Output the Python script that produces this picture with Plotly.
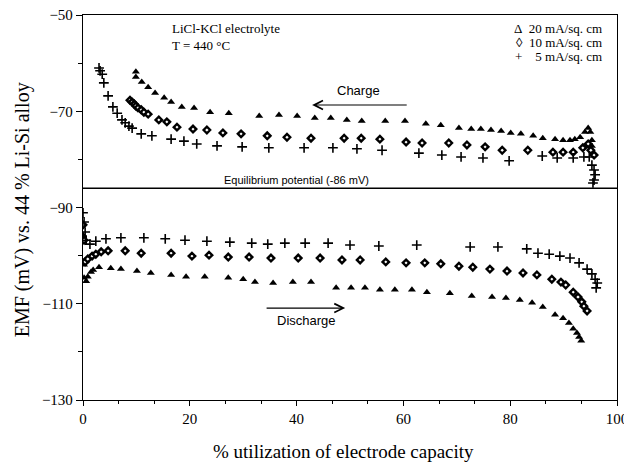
import plotly.graph_objects as go

# ---------------- data ----------------
charge_20_x = [9.9, 9.9, 11.0, 12.2, 13.5, 15.2, 16.5, 18.5, 20.8, 23.8, 27.3, 33.0, 36.7, 40.1, 43.4,
               46.4, 49.4, 52.2, 56.6, 60.3, 64.2, 67.0, 70.4, 72.7, 74.5, 76.4, 78.3, 80.1, 82.0,
               84.3, 86.1, 88.4, 89.9, 91.2, 92.1, 93.1, 94.0, 94.6, 95.0, 95.3, 95.3]
charge_20_y = [-61.8, -62.9, -63.9, -65.0, -66.2, -67.2, -68.1, -69.1, -69.3, -70.2, -70.4, -71.0, -70.8,
               -71.0, -71.4, -71.4, -71.8, -72.0, -72.0, -72.0, -72.6, -72.9, -73.5, -73.7, -73.7,
               -73.9, -74.1, -74.5, -74.7, -75.1, -75.6, -75.8, -76.0, -76.0, -75.8, -75.4, -74.3,
               -73.5, -74.3, -76.0, -77.2]

charge_10_x = [8.8, 9.2, 9.6, 9.9, 10.3, 10.9, 11.4, 12.2, 14.2, 15.7, 17.6, 20.6, 23.2, 26.2, 29.6,
               34.5, 38.2, 42.7, 48.9, 52.1, 55.6, 60.5, 63.5, 68.5, 71.9, 75.3, 78.5, 83.3, 88.0,
               89.9, 91.8, 93.6, 94.6, 95.1, 95.7]
charge_10_y = [-67.7, -68.1, -68.5, -68.9, -69.3, -69.7, -70.2, -70.6, -71.8, -72.2, -73.3, -73.7,
               -73.9, -74.5, -74.7, -75.1, -75.4, -75.6, -75.6, -75.6, -75.8, -76.4, -76.6, -76.6,
               -77.0, -77.4, -78.1, -78.1, -78.5, -78.5, -78.5, -77.6, -76.8, -78.1, -79.1]

charge_5_x = [3.0, 3.2, 3.6, 3.9, 4.7, 5.6, 6.4, 7.3, 7.9, 8.6, 9.2, 10.9, 12.9, 16.5, 18.9, 21.3,
              25.1, 29.8, 34.8, 41.4, 46.8, 51.3, 56.0, 62.9, 67.2, 70.8, 74.9, 79.8, 86.0, 88.8,
              91.8, 93.8, 94.8, 95.3, 95.7, 95.9, 95.7, 95.5]
charge_5_y = [-61.0, -61.6, -62.3, -64.1, -66.8, -69.1, -70.4, -71.8, -72.4, -73.1, -73.5, -74.7,
              -75.1, -75.8, -76.2, -76.8, -77.2, -77.4, -77.6, -77.6, -77.6, -77.8, -78.1, -78.7,
              -79.1, -79.5, -79.7, -80.3, -79.3, -79.7, -79.7, -79.5, -79.5, -81.2, -82.2, -83.2,
              -84.3, -84.9]

discharge_20_x = [0.0, 0.2, 0.2, 0.6, 0.9, 1.5, 1.9, 3.0, 5.2, 7.1, 10.1, 12.7, 16.5, 19.3, 22.8,
                  27.2, 30.0, 32.2, 35.6, 39.3, 42.7, 47.4, 50.2, 52.8, 55.6, 58.4, 61.6, 64.4,
                  68.7, 72.8, 76.6, 79.2, 81.8, 84.1, 86.1, 88.4, 89.9, 91.0, 91.8, 92.5, 92.9, 93.3]
discharge_20_y = [-95.7, -101.9, -104.6, -105.3, -104.4, -103.4, -103.0, -102.4, -102.6, -102.8,
                  -103.2, -103.6, -104.0, -104.4, -104.4, -104.6, -104.9, -105.5, -105.7, -105.5,
                  -105.5, -106.7, -106.7, -106.7, -107.1, -107.1, -107.1, -107.6, -107.8, -108.4,
                  -108.6, -108.8, -109.2, -109.8, -110.7, -112.3, -113.0, -114.0, -115.2, -116.1,
                  -116.9, -117.7]

discharge_10_x = [0.0, 0.2, 0.4, 0.9, 1.7, 2.4, 3.4, 4.7, 7.9, 10.9, 16.5, 20.4, 23.6, 27.2, 31.1,
                  35.2, 40.3, 44.4, 48.5, 51.9, 56.7, 60.5, 64.0, 67.0, 70.4, 73.0, 76.2, 79.4,
                  82.4, 85.0, 87.8, 89.5, 90.4, 91.8, 92.7, 93.4, 93.8, 94.4]
discharge_10_y = [-93.6, -96.8, -101.3, -100.7, -100.1, -99.7, -99.2, -99.0, -99.0, -99.5, -99.5,
                  -100.1, -99.9, -100.3, -100.3, -100.5, -100.5, -100.5, -100.9, -100.9, -101.3,
                  -101.5, -101.5, -101.7, -102.2, -102.4, -102.8, -103.2, -103.6, -104.0, -104.9,
                  -105.5, -106.1, -107.6, -108.6, -109.6, -110.5, -111.5]

discharge_5_x = [0.0, 0.2, 0.4, 0.6, 1.3, 2.4, 4.3, 7.1, 11.4, 15.4, 19.1, 23.2, 27.5, 31.6, 34.6,
                 37.8, 41.6, 45.9, 50.0, 55.4, 62.5, 72.5, 77.7, 83.1, 85.2, 87.3, 89.3, 91.2,
                 92.9, 94.4, 95.3, 95.9, 96.3, 96.1]
discharge_5_y = [-91.1, -93.0, -95.1, -96.8, -97.6, -97.0, -96.5, -96.3, -96.3, -96.5, -96.8,
                 -97.0, -97.2, -97.4, -97.6, -97.4, -97.4, -97.4, -97.8, -98.0, -97.8, -98.2,
                 -98.2, -98.6, -99.5, -99.7, -100.1, -100.5, -101.5, -102.8, -103.8, -104.9,
                 -105.7, -106.7]

EQ_POTENTIAL = -86
legend_lines = ["\u0394&nbsp;&nbsp;20 mA/sq. cm", "\u25ca&nbsp;&nbsp;10 mA/sq. cm",
                "+&nbsp;&nbsp;&nbsp;&nbsp;5 mA/sq. cm"]
x_ticks = [0, 20, 40, 60, 80, 100]
y_ticks = [-130, -110, -90, -70, -50]

# ---------------- figure ----------------
SERIF = "Liberation Serif, Times New Roman, serif"
SANS = "Liberation Sans, Arial, sans-serif"

tri = dict(symbol="triangle-up", size=7, color="black")
dia = dict(symbol="diamond", size=5, color="white", line=dict(color="black", width=2.4))
plus = dict(symbol="cross-thin", size=7, color="black", line=dict(color="black", width=1.6))

fig = go.Figure()
for xs, ys, mk in [(charge_20_x, charge_20_y, tri), (charge_10_x, charge_10_y, dia),
                   (charge_5_x, charge_5_y, plus), (discharge_20_x, discharge_20_y, tri),
                   (discharge_10_x, discharge_10_y, dia), (discharge_5_x, discharge_5_y, plus)]:
    fig.add_trace(go.Scatter(x=xs, y=ys, mode="markers", marker=mk, showlegend=False,
                             hoverinfo="x+y"))

fig.add_shape(type="line", xref="paper", x0=0, x1=1, yref="y", y0=EQ_POTENTIAL, y1=EQ_POTENTIAL,
              line=dict(color="black", width=1.3))

ann = []
ann.append(dict(x=39.9, y=EQ_POTENTIAL + 1.7, text="Equilibrium potential (-86 mV)", showarrow=False,
                font=dict(family=SANS, size=11, color="black")))
ann.append(dict(x=0.163, y=0.99, xref="paper", yref="paper", xanchor="left", yanchor="top",
                align="left", showarrow=False, text="LiCl-KCl electrolyte<br>T = 440 \u00b0C",
                font=dict(family=SERIF, size=13, color="black")))
for i, line in enumerate(legend_lines):
    yy = 0.99 - i * 0.037
    ann.append(dict(x=0.975, y=yy, xref="paper", yref="paper", xanchor="right", yanchor="top",
                    showarrow=False, text=line, font=dict(family=SERIF, size=13, color="black")))
# Charge arrow (points left)
ann.append(dict(x=42.9, y=-68.7, ax=60.9, ay=-68.7, xref="x", yref="y", axref="x", ayref="y",
                text="", showarrow=True, arrowhead=5, arrowsize=1.6, arrowwidth=1.1, arrowcolor="black"))
ann.append(dict(x=51.5, y=-65.6, text="Charge", showarrow=False,
                font=dict(family=SANS, size=13, color="black")))
# Discharge arrow (points right)
ann.append(dict(x=49.1, y=-110.9, ax=34.1, ay=-110.9, xref="x", yref="y", axref="x", ayref="y",
                text="", showarrow=True, arrowhead=5, arrowsize=1.6, arrowwidth=1.1, arrowcolor="black"))
ann.append(dict(x=41.8, y=-113.4, text="Discharge", showarrow=False,
                font=dict(family=SANS, size=13, color="black")))
# axis titles
ann.append(dict(x=-0.114, y=0.493, xref="paper", yref="paper", textangle=-90, showarrow=False,
                xanchor="center", yanchor="middle", text="EMF (mV) vs. 44 % Li-Si alloy",
                font=dict(family=SERIF, size=20, color="black")))
ann.append(dict(x=0.487, y=-0.135, xref="paper", yref="paper", showarrow=False,
                xanchor="center", yanchor="middle", text="% utilization of electrode capacity",
                font=dict(family=SERIF, size=19, color="black")))

# the page body adds an 8 px offset, so the figure is 8 px smaller and margins compensate
fig.update_layout(
    width=624, height=455,
    margin=dict(l=75, r=15, t=7, b=63),
    paper_bgcolor="white", plot_bgcolor="white",
    annotations=ann,
    font=dict(family=SERIF, color="black"),
    xaxis=dict(range=[0, 100], tickvals=x_ticks, ticks="outside", ticklen=5, tickwidth=1,
               tickcolor="black", showline=True, linecolor="black", linewidth=1.3, mirror=True,
               showgrid=False, zeroline=False, tickfont=dict(family=SERIF, size=15),
               automargin=False, ticklabeloverflow="allow",
               minor=dict(dtick=20 / 3, tick0=0, ticks="outside", ticklen=3, tickcolor="black")),
    yaxis=dict(range=[-130, -50], tickvals=y_ticks, ticks="outside", ticklen=6, tickwidth=1,
               tickcolor="black", showline=True, linecolor="black", linewidth=1.3, mirror=True,
               showgrid=False, zeroline=False, tickfont=dict(family=SERIF, size=15),
               automargin=False, ticklabeloverflow="allow",
               minor=dict(dtick=10, tick0=-130, ticks="outside", ticklen=4, tickcolor="black")),
)

fig.write_html("out.html")
